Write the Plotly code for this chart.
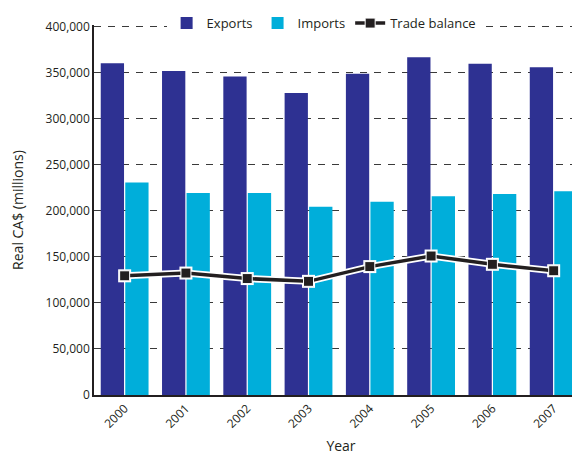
import plotly.graph_objects as go

years = ["2000", "2001", "2002", "2003", "2004", "2005", "2006", "2007"]
exports = [360500, 352000, 346000, 328000, 349000, 367000, 360000, 356000]
imports = [231000, 219500, 219500, 204500, 210000, 216000, 218500, 221500]
trade_balance = [129500, 132500, 126500, 123500, 139500, 151000, 142000, 135000]

y_ticks = [0, 50000, 100000, 150000, 200000, 250000, 300000, 350000, 400000]
y_tick_labels = ["0", "50,000", "100,000", "150,000", "200,000", "250,000",
                 "300,000", "350,000", "400,000"]

font_family = "Open Sans, Noto Sans, sans-serif"
text_color = "#231F20"

fig = go.Figure()
fig.add_trace(go.Bar(x=years, y=exports, name="Exports",
                     marker=dict(color="#2E3192", line=dict(width=0))))
fig.add_trace(go.Bar(x=years, y=imports, name="Imports",
                     marker=dict(color="#00AEDA", line=dict(width=0))))
# white halo under the trade balance line
fig.add_trace(go.Scatter(x=years, y=trade_balance, mode="lines+markers",
                         showlegend=False, hoverinfo="skip",
                         line=dict(color="white", width=7),
                         marker=dict(symbol="square", size=13, color="white")))
fig.add_trace(go.Scatter(x=years, y=trade_balance, mode="lines+markers",
                         name="Trade balance",
                         line=dict(color=text_color, width=3.5),
                         marker=dict(symbol="square", size=10, color=text_color,
                                     line=dict(color="white", width=1))))

fig.update_layout(
    width=580, height=455,
    margin=dict(l=86, r=0, t=7, b=68),
    paper_bgcolor="white", plot_bgcolor="white",
    barmode="group", bargap=0.2, bargroupgap=0.05,
    font=dict(family=font_family, size=12, color=text_color),
    legend=dict(orientation="h", x=0.147, y=1.005, xanchor="left", yanchor="middle",
                bgcolor="white", font=dict(size=13, color=text_color),
                traceorder="normal", itemwidth=30),
    xaxis=dict(categoryorder="array", categoryarray=years, automargin=False,
               range=[-0.5, 7.56], tickangle=-45, showgrid=False,
               showline=True, linecolor=text_color, linewidth=1.5,
               ticks="", tickfont=dict(size=12, color=text_color),
               title=dict(text="Year", font=dict(size=14, color=text_color), standoff=11)),
    yaxis=dict(range=[0, 402000], tickvals=y_ticks, ticktext=y_tick_labels, automargin=False,
               showgrid=True, gridcolor="#3A3A3A", gridwidth=1.3, griddash="7px,7px",
               showline=True, linecolor=text_color, linewidth=1.5,
               zeroline=False, ticks="", tickfont=dict(size=12, color=text_color),
               title=dict(text="Real CA$ (millions)", font=dict(size=14, color=text_color),
                          standoff=28)),
)

fig.write_html("out.html")
